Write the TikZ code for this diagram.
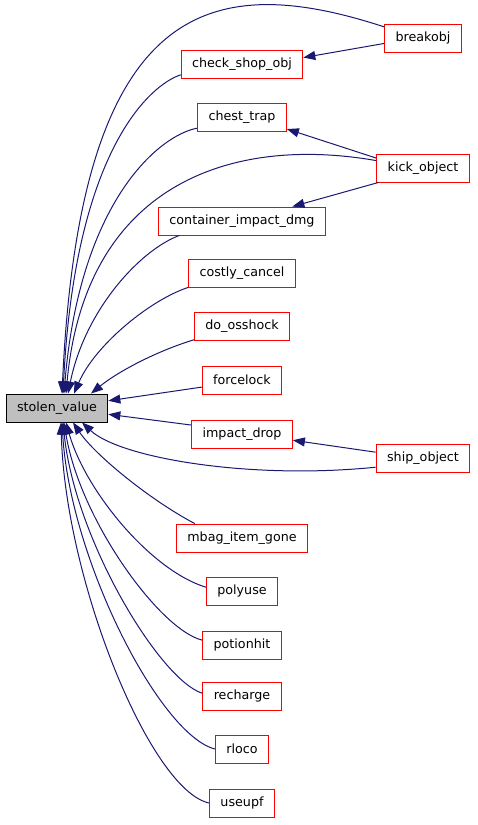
\documentclass[tikz,border=0pt]{standalone}
\usepackage{fontspec}
\setmainfont{DejaVu Sans}
\usepackage{tikz}
\usetikzlibrary{arrows.meta}

\definecolor{edgeblue}{HTML}{191970}
\definecolor{boxred}{HTML}{FF0000}
\definecolor{boxgray}{HTML}{BFBFBF}

\begin{document}
\begin{tikzpicture}[
    x=1pt, y=-1pt,
    fn/.style={
        draw=boxred,
        line width=0.9pt,
        inner xsep=11pt,
        minimum height=28pt,
        font=\fontsize{12.7}{15}\selectfont
    },
    root/.style={
        fn,
        draw=black,
        fill=boxgray
    },
    call/.style={
        -{Triangle[length=12pt,width=9pt]},
        draw=edgeblue,
        line width=1pt
    }
]
\useasboundingbox (0,0) rectangle (477,825);

\node[root] (sv) at (57,408) {stolen\_value};

\node[fn] (breakobj) at (423,38) {breakobj};
\node[fn] (checkshop) at (242,64) {check\_shop\_obj};
\node[fn] (chesttrap) at (242,117) {chest\_trap};
\node[fn] (kickobj) at (423,168) {kick\_object};
\node[fn] (container) at (242,221) {container\_impact\_dmg};
\node[fn] (costly) at (242,273) {costly\_cancel};
\node[fn] (osshock) at (242,326) {do\_osshock};
\node[fn] (forcelock) at (242,380) {forcelock};
\node[fn] (impactdrop) at (242,434) {impact\_drop};
\node[fn] (shipobj) at (423,458) {ship\_object};
\node[fn] (mbag) at (242,538) {mbag\_item\_gone};
\node[fn] (polyuse) at (242,591) {polyuse};
\node[fn] (potionhit) at (242,645) {potionhit};
\node[fn] (recharge) at (242,696) {recharge};
\node[fn] (rloco) at (242,749) {rloco};
\node[fn] (useupf) at (242,803) {useupf};

% callers of callers
\draw[call] (breakobj.188) -- (checkshop.6);
\draw[call] (kickobj.168) -- (chesttrap.-15);
\draw[call] (kickobj.198) -- (container.16);
\draw[call] (shipobj.173) -- (impactdrop.-7);

% callers above
\draw[call] (breakobj.164) .. controls (210,-30) and (80,0) .. ([xshift=5pt]sv.north);
\draw[call] (checkshop.190) .. controls (150,85) and (75,150) .. ([xshift=6pt]sv.north);
\draw[call] (chesttrap.194) .. controls (160,135) and (80,200) .. ([xshift=7pt]sv.north);
\draw[call] (kickobj.171) .. controls (230,135) and (85,185) .. ([xshift=9pt]sv.north);
\draw[call] (container.193) .. controls (140,250) and (85,310) .. ([xshift=11pt]sv.north);
\draw[call] (costly.195) .. controls (150,300) and (95,345) .. ([xshift=17pt]sv.north);
\draw[call] (osshock.196) .. controls (160,350) and (120,370) .. ([xshift=34pt]sv.north);

% callers beside
\draw[call] (forcelock.190) -- (sv.8);
\draw[call] (impactdrop.170) -- (sv.-7);

% callers below
\draw[call] (shipobj.191) .. controls (250,480) and (120,458) .. ([xshift=25pt]sv.south);
\draw[call] (mbag.163) .. controls (150,500) and (95,455) .. ([xshift=16pt]sv.south);
\draw[call] (polyuse.174) .. controls (150,570) and (85,490) .. ([xshift=9pt]sv.south);
\draw[call] (potionhit.173) .. controls (160,630) and (80,520) .. ([xshift=7pt]sv.south);
\draw[call] (recharge.176) .. controls (160,680) and (75,540) .. ([xshift=6pt]sv.south);
\draw[call] (rloco.180) .. controls (160,735) and (70,560) .. ([xshift=5pt]sv.south);
\draw[call] (useupf.180) .. controls (150,790) and (65,580) .. ([xshift=4pt]sv.south);

\end{tikzpicture}
\end{document}
